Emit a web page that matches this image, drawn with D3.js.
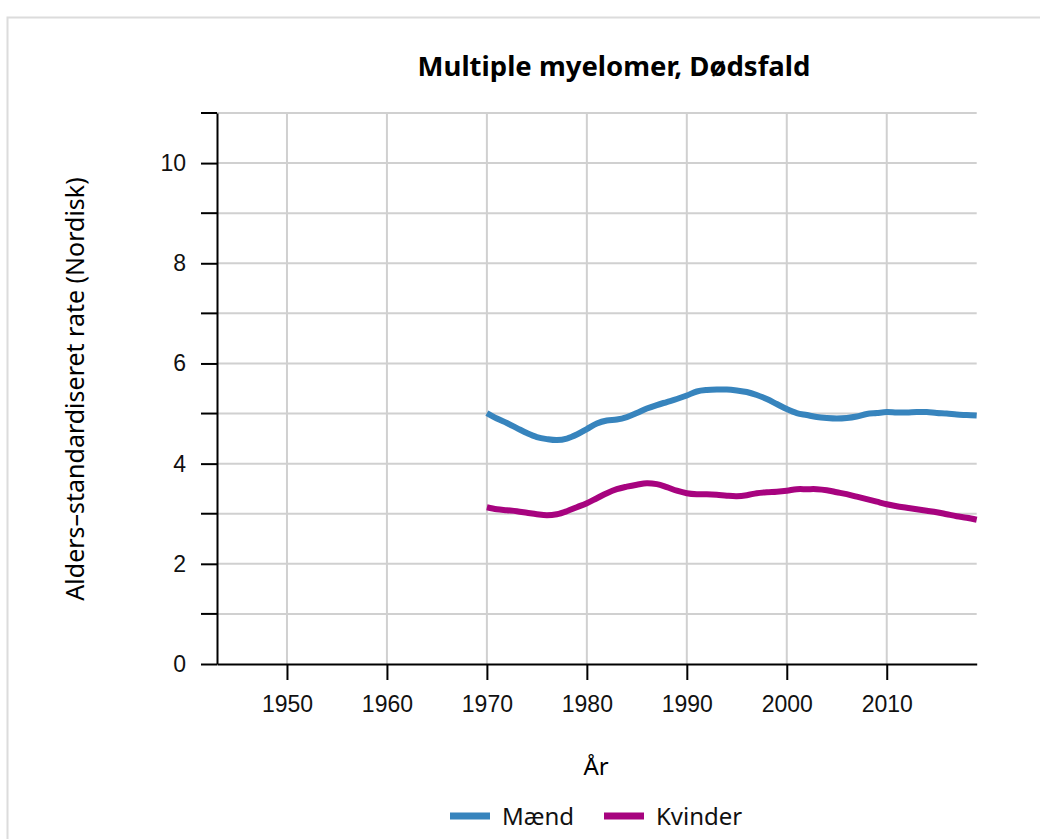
<!DOCTYPE html>
<html>
<head>
<meta charset="utf-8">
<script src="https://cdn.jsdelivr.net/npm/d3@7"></script>
<style>
  body { margin: 0; background: #fff; }
  .grid line { stroke: #d0d0d0; stroke-width: 2; }
  .axis path, .axis line { stroke: #000; stroke-width: 2; }
  .axis text { font-family: "Liberation Sans", Arial, sans-serif; font-size: 23px; fill: #111; }
</style>
</head>
<body>
<svg id="chart"></svg>
<script>
// data
const years = d3.range(1970, 2020)
const maend = [
  5.01, 4.90, 4.81, 4.71, 4.61, 4.53, 4.49, 4.47, 4.50, 4.58,
  4.69, 4.80, 4.86, 4.88, 4.93, 5.01, 5.10, 5.17, 5.23, 5.29,
  5.36, 5.44, 5.47, 5.48, 5.48, 5.46, 5.43, 5.37, 5.29, 5.19,
  5.09, 5.01, 4.97, 4.93, 4.91, 4.90, 4.91, 4.94, 4.99, 5.01,
  5.03, 5.02, 5.02, 5.03, 5.03, 5.01, 5.00, 4.98, 4.97, 4.96
]
const kvinder = [
  3.13, 3.09, 3.07, 3.05, 3.02, 2.99, 2.97, 2.99, 3.05, 3.13,
  3.21, 3.31, 3.41, 3.49, 3.54, 3.58, 3.61, 3.59, 3.53, 3.46,
  3.41, 3.39, 3.39, 3.38, 3.36, 3.35, 3.37, 3.41, 3.43, 3.44,
  3.46, 3.49, 3.49, 3.49, 3.47, 3.43, 3.39, 3.34, 3.29, 3.24,
  3.19, 3.15, 3.12, 3.09, 3.06, 3.03, 2.99, 2.95, 2.92, 2.88
]
const seriesNames = ['Mænd', 'Kvinder']
const colors = ['#3784bd', '#a7037f']
const xTicks = [1950, 1960, 1970, 1980, 1990, 2000, 2010]
const yTicks = [0, 2, 4, 6, 8, 10]
const yMinor = d3.range(1, 12, 2)

const width = 1040, height = 839
const svg = d3.select('#chart').attr('width', width).attr('height', height)

svg.append('rect')
    .attr('x', 7.5).attr('y', 17.5)
    .attr('width', 1100).attr('height', 900)
    .attr('fill', 'none').attr('stroke', '#dcdcdc').attr('stroke-width', 2)

const x = d3.scaleLinear().domain([1943, 2019]).range([217, 976.7])
const y = d3.scaleLinear().domain([0, 11]).range([664, 113])

// grid
const grid = svg.append('g').attr('class', 'grid')
grid.selectAll('.h').data(d3.range(1, 12)).enter().append('line')
    .attr('x1', x.range()[0]).attr('x2', x.range()[1])
    .attr('y1', d => y(d)).attr('y2', d => y(d))
grid.selectAll('.v').data(xTicks).enter().append('line')
    .attr('x1', d => x(d)).attr('x2', d => x(d))
    .attr('y1', y(11)).attr('y2', y(0))

// axes
const yAxis = svg.append('g').attr('class', 'axis')
    .attr('transform', `translate(${x.range()[0]},0)`)
    .call(d3.axisLeft(y).tickValues(yTicks).tickSize(16).tickPadding(15).tickSizeOuter(0))
yAxis.selectAll('.minor').data(yMinor).enter().append('line')
    .attr('x1', -16).attr('x2', 0)
    .attr('y1', d => y(d)).attr('y2', d => y(d))

svg.append('g').attr('class', 'axis')
    .attr('transform', `translate(0,${y(0)})`)
    .call(d3.axisBottom(x).tickValues(xTicks).tickFormat(d3.format('d')).tickSize(16).tickPadding(16).tickSizeOuter(0))

// lines
const line = d3.line()
    .x((d, i) => x(years[i]))
    .y(d => y(d))
    .curve(d3.curveCatmullRom)

;[maend, kvinder].forEach((s, i) => {
    svg.append('path')
        .datum(s)
        .attr('d', line)
        .attr('fill', 'none')
        .attr('stroke', colors[i])
        .attr('stroke-width', 6)
        .attr('stroke-linejoin', 'round')
})

// titles
svg.append('text')
    .attr('x', 614).attr('y', 76)
    .attr('text-anchor', 'middle')
    .style('font-family', '"Noto Sans", sans-serif')
    .style('font-weight', 'bold')
    .style('font-size', '27.5px')
    .text('Multiple myelomer, Dødsfald')

svg.append('text')
    .attr('transform', 'translate(84,389) rotate(-90)')
    .attr('text-anchor', 'middle')
    .style('font-family', '"Noto Sans", sans-serif')
    .style('font-size', '25px')
    .text('Alders–standardiseret rate (Nordisk)')

svg.append('text')
    .attr('x', 596).attr('y', 775)
    .attr('text-anchor', 'middle')
    .style('font-family', '"Noto Sans", sans-serif')
    .style('font-size', '24px')
    .text('År')

// legend
const legendX = [450, 604]
seriesNames.forEach((n, i) => {
    svg.append('line')
        .attr('x1', legendX[i]).attr('x2', legendX[i] + 40)
        .attr('y1', 816).attr('y2', 816)
        .attr('stroke', colors[i]).attr('stroke-width', 7)
    svg.append('text')
        .attr('x', legendX[i] + 52).attr('y', 825)
        .style('font-family', '"Noto Sans", sans-serif')
        .style('font-size', '24px')
        .style('fill', '#111')
        .text(n)
})
</script>
</body>
</html>
